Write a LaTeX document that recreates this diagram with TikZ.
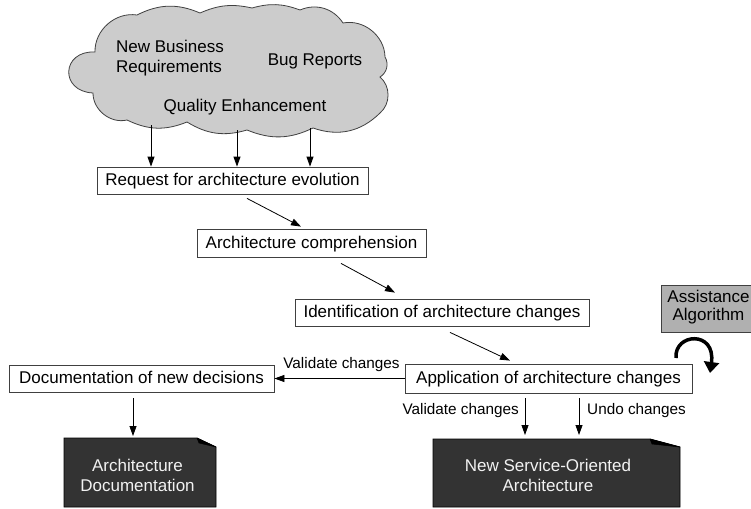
\documentclass[tikz,border=0pt]{standalone}
\usepackage{fontspec}
\setmainfont{Liberation Sans}
\usetikzlibrary{arrows.meta,calc}
\definecolor{cloudgray}{HTML}{CCCCCC}
\definecolor{darkbox}{HTML}{333333}
\definecolor{assistgray}{HTML}{B0B0B0}
\definecolor{edgegray}{HTML}{404040}
\definecolor{doctext}{HTML}{F2F2F2}
\begin{document}
\begin{tikzpicture}[x=1pt,y=-1pt,
  font=\fontsize{17}{20}\selectfont,
  box/.style={draw=edgegray, line width=0.8pt, fill=white, inner sep=0pt,
    text height=13pt, text depth=2.4pt},
  arr/.style={draw=black, line width=0.8pt, -{Triangle[length=10pt,width=7pt]}},
  lbl/.style={inner sep=0pt, font=\fontsize{15.3}{18}\selectfont,
    text height=11.7pt, text depth=2.2pt},
  docshape/.style={fill=darkbox, draw=black, line width=0.8pt},
  foldshape/.style={fill=black, draw=black, line width=0.5pt, line join=round},
  doclabel/.style={inner sep=0pt, text=doctext, align=center},
  cloudtext/.style={inner sep=0pt, text=black},
  cloudshape/.style={fill=cloudgray, draw=edgegray, line width=0.8pt}]
\useasboundingbox (0,0) rectangle (751,508);

% cloud
\path[cloudshape] (95,52) to[bend left=50] (137,15) to[bend left=25] (200,13)
  to[bend left=18] (252,8) to[bend left=18] (300,10) to[bend left=40] (343,23)
  to[bend left=50] (385,57) to[bend left=45] (380,77) to[bend left=50] (380,113)
  to[bend left=32] (313,128) to[bend left=24] (247,130) to[bend left=24] (187,122)
  to[bend left=24] (127,120) to[bend left=52] (93,93)
  to[bend left=90, looseness=2.1] cycle;
\node[cloudtext, align=left] (nbr) at (170,58) {New Business\\Requirements};
\node[cloudtext, anchor=base] (bug) at (315,66) {Bug Reports};
\node[cloudtext, anchor=base] (qual) at (245,111) {Quality Enhancement};
\coordinate (c1) at (151,125);
\coordinate (c2) at (237,130);
\coordinate (c3) at (310,128);

% process boxes
\node[box, minimum width=271pt, minimum height=27pt] (req) at (232.5,180.5) {Request for architecture evolution};
\node[box, minimum width=229pt, minimum height=28pt] (comp) at (311.5,243) {Architecture comprehension};
\node[box, minimum width=294pt, minimum height=27pt] (ident) at (442,312.5) {Identification of architecture changes};
\node[box, minimum width=287pt, minimum height=29pt] (app) at (548.5,378.5) {Application of architecture changes};
\node[box, minimum width=265pt, minimum height=27pt] (docn) at (141.5,378.5) {Documentation of new decisions};

% assistance
\node[draw=edgegray, line width=0.8pt, fill=assistgray, minimum width=96pt, minimum height=47pt,
  inner sep=0pt, align=center, font=\fontsize{17}{18}\selectfont] (assist) at (709,308.5) {};
\node[inner sep=0pt, align=center, font=\fontsize{17}{18}\selectfont] (assisttext) at (708.5,307) {Assistance\\Algorithm};
\draw[line width=3.5pt, -{Triangle[length=11pt,width=15pt]}] (676,358) .. controls (674,333) and (716,330) .. (710,373);

% documents
\path[docshape] (64,438) -- (197,438) -- (216,447) -- (216,507) -- (64,507) -- cycle;
\path[foldshape] (197,438) -- (199,443) -- (216,447) -- cycle;
\coordinate (adoctop) at (140,438);
\node[doclabel] (adoc) at (137.5,475.5) {Architecture\\Documentation};

\path[docshape] (433,439) -- (650,439) -- (680,447) -- (680,507) -- (433,507) -- cycle;
\path[foldshape] (650,439) -- (652,444) -- (680,447) -- cycle;
\coordinate (soatop) at (556.5,439);
\node[doclabel] (soa) at (548,475.5) {New Service-Oriented\\Architecture};

% connectors
\draw[arr] (c1) -- (req.north -| c1);
\draw[arr] (c2) -- (req.north -| c2);
\draw[arr] (c3) -- (req.north -| c3);
\draw[arr] ($(req.south)+(14.5,4)$) -- ($(comp.north)+(-10.5,-2)$);
\draw[arr] ($(comp.south)+(29.5,6)$) -- ($(ident.north)+(-47,-6)$);
\draw[arr] ($(ident.south)+(8,6)$) -- ($(app.north)+(-38.5,-3)$);
\draw[arr] (app.west) -- (docn.east);
\node[lbl] (val1) at (341.5,364) {Validate changes};
\draw[arr] ($(app.south)+(-23.5,5)$) -- ($(soatop)+(-31.5,-4)$);
\draw[arr] ($(app.south)+(30.5,5)$) -- ($(soatop)+(22.5,-4)$);
\node[lbl, anchor=east] (val2) at (519,410) {Validate changes};
\node[lbl, anchor=west] (undo) at (587,410) {Undo changes};
\draw[arr] ($(docn.south)+(-8.5,6)$) -- ($(adoctop)+(-7,-2)$);
\end{tikzpicture}
\end{document}
